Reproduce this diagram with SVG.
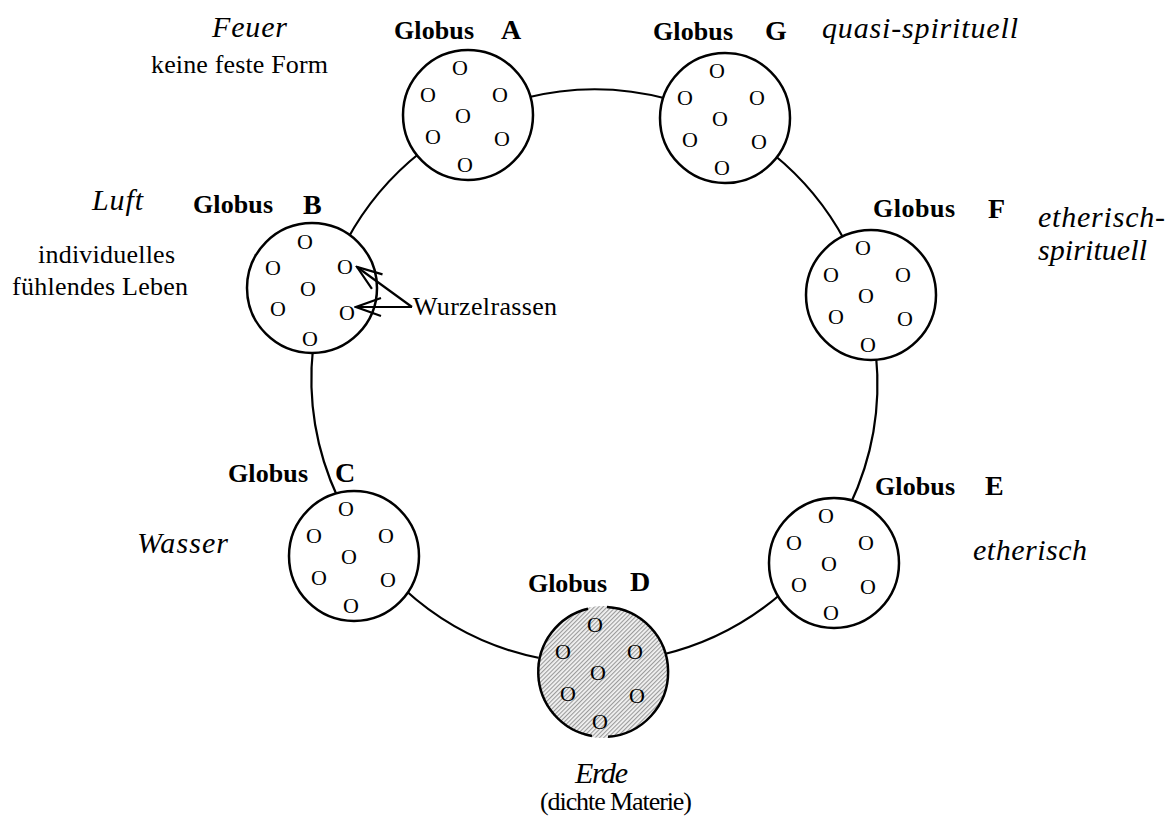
<svg xmlns="http://www.w3.org/2000/svg" width="1169" height="817" viewBox="0 0 1169 817">
<style>
.ring{fill:none;stroke:#000;stroke-width:2.2}
.globe{fill:#fff;stroke:#000;stroke-width:2.5}
.o{font-family:"Liberation Serif","Times New Roman",serif;font-size:22px;text-anchor:middle;fill:#000}
.gl{font-family:"Liberation Serif","Times New Roman",serif;font-size:26px;font-weight:bold;fill:#000}
.let{font-family:"Liberation Serif","Times New Roman",serif;font-size:28px;font-weight:bold;fill:#000}
.it{font-family:"Liberation Serif","Times New Roman",serif;font-size:30px;font-style:italic;fill:#000}
.rg{font-family:"Liberation Serif","Times New Roman",serif;font-size:26px;fill:#000}
.arrow{fill:none;stroke:#000;stroke-width:2.2}
</style>
<defs>
<pattern id="hatch" width="3" height="3" patternUnits="userSpaceOnUse" patternTransform="rotate(45)">
<rect width="3" height="3" fill="#f2f2f2"/>
<rect width="1.1" height="3" fill="#9a9a9a"/>
</pattern>
<marker id="vhead" markerWidth="30" markerHeight="24" refX="0" refY="0" viewBox="-28 -12 30 24" orient="auto" markerUnits="userSpaceOnUse">
<path d="M-25,-9 L0,0 L-25,9" fill="none" stroke="#000" stroke-width="2.2"/>
</marker>
</defs>
<rect width="1169" height="817" fill="#fff"/>
<g id="connectors">
<path class="ring" d="M525,98 A285,285 0 0 1 668,99"/>
<path class="ring" d="M773,154 A285,285 0 0 1 845,241"/>
<path class="ring" d="M876,355 A285,285 0 0 1 850,505"/>
<path class="ring" d="M782,593 A285,285 0 0 1 661,655"/>
<path class="ring" d="M544,659 A285,285 0 0 1 404,589"/>
<path class="ring" d="M338,498 A285,285 0 0 1 313,348"/>
<path class="ring" d="M347,240 A285,285 0 0 1 421,152"/>
</g>
<g id="globeA">
<circle class="globe" cx="468" cy="115" r="65"/>
<text class="o" x="460" y="75">O</text><text class="o" x="428" y="102">O</text><text class="o" x="500" y="102">O</text><text class="o" x="463" y="123">O</text><text class="o" x="433" y="144">O</text><text class="o" x="502" y="146">O</text><text class="o" x="465" y="172">O</text>
<text class="gl" x="394" y="39" textLength="80">Globus</text><text class="let" x="501" y="39">A</text>
</g>
<g id="globeG">
<circle class="globe" cx="725" cy="118" r="65"/>
<text class="o" x="717" y="78">O</text><text class="o" x="685" y="105">O</text><text class="o" x="757" y="105">O</text><text class="o" x="720" y="126">O</text><text class="o" x="690" y="147">O</text><text class="o" x="759" y="149">O</text><text class="o" x="722" y="175">O</text>
<text class="gl" x="653" y="40" textLength="80">Globus</text><text class="let" x="765" y="40">G</text>
</g>
<g id="globeF">
<circle class="globe" cx="871" cy="295" r="65"/>
<text class="o" x="863" y="255">O</text><text class="o" x="831" y="282">O</text><text class="o" x="903" y="282">O</text><text class="o" x="866" y="303">O</text><text class="o" x="836" y="324">O</text><text class="o" x="905" y="326">O</text><text class="o" x="868" y="352">O</text>
<text class="gl" x="873" y="217" textLength="82">Globus</text><text class="let" x="988" y="218">F</text>
</g>
<g id="globeE">
<circle class="globe" cx="834" cy="563" r="65"/>
<text class="o" x="826" y="523">O</text><text class="o" x="794" y="550">O</text><text class="o" x="866" y="550">O</text><text class="o" x="829" y="571">O</text><text class="o" x="799" y="592">O</text><text class="o" x="868" y="594">O</text><text class="o" x="831" y="620">O</text>
<text class="gl" x="875" y="495" textLength="80">Globus</text><text class="let" x="985" y="495">E</text>
</g>
<g id="globeD">
<circle cx="603" cy="672" r="66" fill="url(#hatch)"/>
<path d="M607,607.1 A65,65 0 0 1 608,736.8" fill="none" stroke="#000" stroke-width="2.5"/>
<path d="M588,608.8 A65,65 0 0 0 592,736" fill="none" stroke="#000" stroke-width="2.5"/>
<text class="o" x="595" y="632">O</text><text class="o" x="563" y="659">O</text><text class="o" x="635" y="659">O</text><text class="o" x="598" y="680">O</text><text class="o" x="568" y="701">O</text><text class="o" x="637" y="703">O</text><text class="o" x="600" y="729">O</text>
<text class="gl" x="528" y="592" textLength="79">Globus</text><text class="let" x="630" y="591">D</text>
</g>
<g id="globeC">
<circle class="globe" cx="354" cy="556" r="65"/>
<text class="o" x="346" y="516">O</text><text class="o" x="314" y="543">O</text><text class="o" x="386" y="543">O</text><text class="o" x="349" y="564">O</text><text class="o" x="319" y="585">O</text><text class="o" x="388" y="587">O</text><text class="o" x="351" y="613">O</text>
<text class="gl" x="228" y="482" textLength="80">Globus</text><text class="let" x="335" y="482">C</text>
</g>
<g id="globeB">
<circle class="globe" cx="312" cy="288" r="65"/>
<text class="o" x="305" y="249">O</text><text class="o" x="273" y="275">O</text><text class="o" x="345" y="274">O</text><text class="o" x="308" y="296">O</text><text class="o" x="278" y="316">O</text><text class="o" x="347" y="320">O</text><text class="o" x="310" y="346">O</text>
<text class="gl" x="193" y="213" textLength="80">Globus</text><text class="let" x="303" y="214">B</text>
</g>
<g id="arrows">
<path class="arrow" d="M412,307 L357,267" marker-end="url(#vhead)"/>
<path class="arrow" d="M412,307 L356,307" marker-end="url(#vhead)"/>
</g>
<g id="labels">
<text class="it" x="212" y="37" textLength="75">Feuer</text>
<text class="rg" x="151" y="73" textLength="177">keine feste Form</text>
<text class="it" x="822" y="38" textLength="196">quasi-spirituell</text>
<text class="it" x="92" y="210" textLength="51">Luft</text>
<text class="rg" x="38" y="263" textLength="137">individuelles</text>
<text class="rg" x="12" y="295" textLength="176">fühlendes Leben</text>
<text class="rg" x="413" y="315" textLength="144">Wurzelrassen</text>
<text class="it" x="1038" y="227" textLength="127">etherisch-</text>
<text class="it" x="1038" y="260" textLength="109">spirituell</text>
<text class="it" x="137" y="553" textLength="91">Wasser</text>
<text class="it" x="973" y="560" textLength="114">etherisch</text>
<text class="it" x="575" y="783" textLength="53">Erde</text>
<text class="rg" x="540" y="810" textLength="152">(dichte Materie)</text>
</g>
</svg>
